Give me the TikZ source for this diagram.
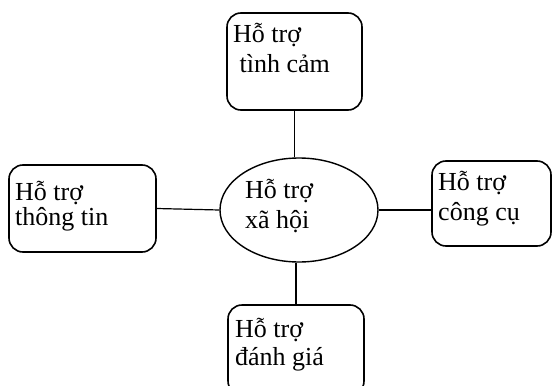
\documentclass[tikz,border=0pt]{standalone}
\usepackage{fontspec}
\setmainfont{Liberation Serif}
\usepackage{tikz}
\usetikzlibrary{
	positioning,
	shapes.geometric
}

\begin{document}
\begin{tikzpicture}[
			x=1pt, y=-1pt,
			font=\fontsize{26}{30}\selectfont,
			hop/.style={draw, line width=1.6pt, rounded corners=14pt, inner sep=0pt},
			txt/.style={anchor=base west, align=left, inner sep=0pt},
			noi/.style={line width=1.2pt}
		]
		\useasboundingbox (0,0) rectangle (553,385);

		% cac o
		\node[hop, minimum width=135pt, minimum height=97pt] (tc) at (294.5,61.5) {};
		\node[hop, minimum width=147pt, minimum height=87pt] (tt) at (82.5,208.5) {};
		\node[hop, minimum width=119pt, minimum height=85pt] (cc) at (491.5,203.5) {};
		\node[hop, minimum width=136pt, minimum height=90pt] (dg) at (296,350) {};
		\node[draw, ellipse, line width=1.4pt, minimum width=158pt, minimum height=104pt, inner sep=0pt] (xh) at (299,210) {};

		% chu (neo o dong cuoi)
		\node[txt] (ltc) at (233,73) {Hỗ trợ\\~tình cảm};
		\node[txt] (ltt) at (15,225) {Hỗ trợ\\[-5pt]thông tin};
		\node[txt] (lcc) at (438,220) {Hỗ trợ\\công cụ};
		\node[txt] (ldg) at (235,365) {Hỗ trợ\\[-2pt]đánh giá};
		\node[txt] (lxh) at (245,228) {Hỗ trợ\\xã hội};

		% duong noi
		\draw[noi] (tc.south) -- (tc.south |- xh.north);
		\draw[noi] (tt.east) -- (xh.west);
		\draw[noi] (xh.east) -- (xh.east -| cc.west);
		\draw[noi] (dg.north) -- (dg.north |- xh.south);
	\end{tikzpicture}
\end{document}
